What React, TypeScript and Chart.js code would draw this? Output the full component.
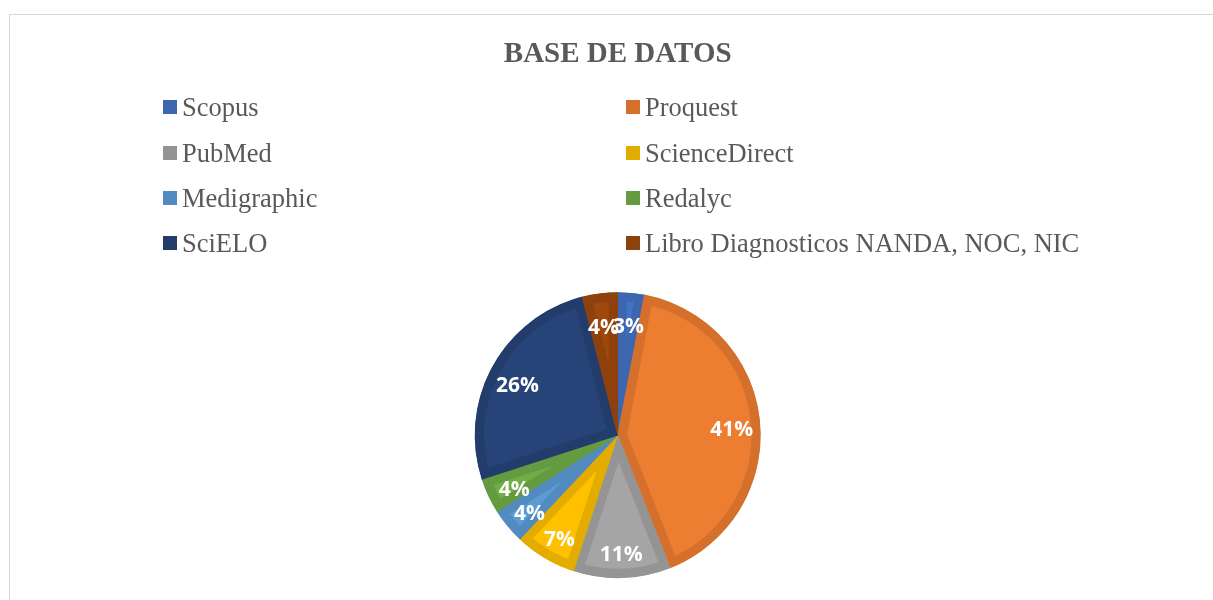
import React, { useEffect, useRef } from "react";
import { Chart, registerables } from "chart.js";

Chart.register(...registerables);

const titleText = "BASE DE DATOS";
const categories = [
  "Scopus",
  "Proquest",
  "PubMed",
  "ScienceDirect",
  "Medigraphic",
  "Redalyc",
  "SciELO",
  "Libro Diagnosticos NANDA, NOC, NIC",
];
const shareValues = [3, 41, 11, 7, 4, 4, 26, 4];
const fillColors = ["#4472C4", "#ED7D31", "#A5A5A5", "#FFC000", "#5B9BD5", "#70AD47", "#264478", "#9E480E"];
const edgeColors = ["#3D66B0", "#D5702C", "#949494", "#E5AC00", "#528BBF", "#659B40", "#223D6C", "#8E400D"];

const CANVAS_W = 1203;
const CANVAS_H = 585;

const pieLabels = {
  id: "pieLabels",
  afterDatasetsDraw(chart: any) {
    const { ctx } = chart;
    const meta = chart.getDatasetMeta(0);
    const data: number[] = chart.data.datasets[0].data;
    const total = data.reduce((s, v) => s + v, 0);
    ctx.save();
    ctx.fillStyle = "#FFFFFF";
    ctx.font = "bold 21px 'Open Sans', sans-serif";
    ctx.textAlign = "center";
    ctx.textBaseline = "alphabetic";
    meta.data.forEach((arc: any, i: number) => {
      const p = arc.getProps(["x", "y", "startAngle", "endAngle", "outerRadius"], true);
      const a = (p.startAngle + p.endAngle) / 2;
      const r = p.outerRadius * 0.8;
      const txt = Math.round((data[i] / total) * 100) + "%";
      ctx.fillText(txt, p.x + Math.cos(a) * r, p.y + Math.sin(a) * r + 12);
    });
    ctx.restore();
  },
};

export default function App() {
  const canvasRef = useRef<HTMLCanvasElement | null>(null);

  useEffect(() => {
    if (!canvasRef.current) return;
    const chart = new Chart(canvasRef.current, {
      type: "pie",
      data: {
        labels: categories,
        datasets: [
          {
            data: shareValues,
            backgroundColor: fillColors,
            borderColor: edgeColors,
            borderWidth: 9,
            borderAlign: "inner",
          } as any,
        ],
      },
      options: {
        responsive: false,
        devicePixelRatio: 1,
        animation: false,
        events: [],
        radius: 143,
        layout: { padding: { left: 12.4, right: 0, top: 0, bottom: 21.5 } },
        plugins: {
          legend: { display: false },
          tooltip: { enabled: false },
          title: {
            display: true,
            text: titleText,
            color: "#595959",
            font: { family: "'Liberation Serif', 'Times New Roman', serif", size: 29, weight: "bold" },
            padding: { top: 22, bottom: 220 },
          },
        },
      } as any,
      plugins: [pieLabels],
    });
    return () => chart.destroy();
  }, []);

  const rowCenters = [107, 152.5, 197.5, 243];
  const colSquareX = [153, 616];

  return (
    <div
      style={{
        position: "fixed",
        left: 9,
        top: 14,
        width: 1204,
        height: 586,
        borderLeft: "1px solid #D9D9D9",
        borderTop: "1px solid #D9D9D9",
        boxSizing: "border-box",
        background: "#FFFFFF",
        overflow: "hidden",
      }}
    >
      <canvas
        ref={canvasRef}
        width={CANVAS_W}
        height={CANVAS_H}
        style={{ position: "absolute", left: 0, top: 0, width: CANVAS_W, height: CANVAS_H, display: "block" }}
      />
      {categories.map((name, i) => {
        const row = Math.floor(i / 2);
        const col = i % 2;
        const lh = 30;
        return (
          <div
            key={name}
            style={{
              position: "absolute",
              left: colSquareX[col],
              top: rowCenters[row] - 15 - lh / 2,
              height: lh,
              display: "flex",
              alignItems: "center",
              whiteSpace: "nowrap",
              fontFamily: "'Liberation Serif', 'Times New Roman', serif",
              fontSize: 26.5,
              lineHeight: lh + "px",
              color: "#595959",
            }}
          >
            <span
              style={{
                display: "inline-block",
                width: 14,
                height: 14,
                background: edgeColors[i],
                marginRight: 5,
              }}
            />
            <span>{name}</span>
          </div>
        );
      })}
    </div>
  );
}
